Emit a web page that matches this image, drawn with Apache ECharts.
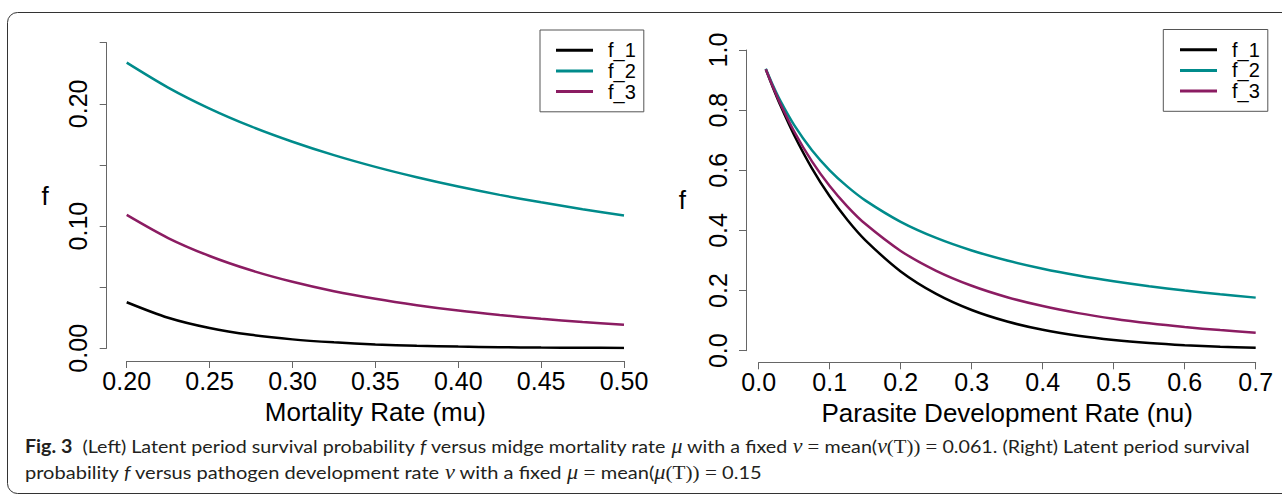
<!DOCTYPE html>
<html><head><meta charset="utf-8">
<script src="https://cdn.jsdelivr.net/npm/echarts@6/dist/echarts.min.js"></script>
<style>html,body{margin:0;padding:0;background:#fff}#c{width:1282px;height:494px}</style>
</head><body><div id="c"></div>
<script>
// ---- Left panel: f vs mortality rate mu (nu fixed) ----
const muValues = [0.200, 0.225, 0.250, 0.275, 0.300, 0.325, 0.350, 0.375, 0.400, 0.425, 0.450, 0.475, 0.500];
const leftF1 = [0.0377, 0.0250, 0.0166, 0.0110, 0.0073, 0.0049, 0.0032, 0.0021, 0.0014, 0.0009, 0.0006, 0.0004, 0.0003];
const leftF2 = [0.2337, 0.2133, 0.1961, 0.1815, 0.1690, 0.1580, 0.1484, 0.1399, 0.1323, 0.1255, 0.1194, 0.1138, 0.1087];
const leftF3 = [0.1091, 0.0902, 0.0755, 0.0638, 0.0544, 0.0467, 0.0405, 0.0353, 0.0309, 0.0273, 0.0242, 0.0215, 0.0192];

// ---- Right panel: f vs parasite development rate nu (mu fixed) ----
const nuValues = [0.01, 0.02, 0.03, 0.05, 0.075, 0.10, 0.125, 0.15, 0.20, 0.25, 0.30, 0.35, 0.40, 0.45, 0.50, 0.55, 0.60, 0.65, 0.70];
const rightF1 = [0.9355, 0.8752, 0.8187, 0.7165, 0.6065, 0.5134, 0.4346, 0.3679, 0.2636, 0.1889, 0.1353, 0.0970, 0.0695, 0.0498, 0.0357, 0.0256, 0.0183, 0.0131, 0.0094];
const rightF2 = [0.9375, 0.8824, 0.8333, 0.7500, 0.6667, 0.6000, 0.5455, 0.5000, 0.4286, 0.3750, 0.3333, 0.3000, 0.2727, 0.2500, 0.2308, 0.2143, 0.2000, 0.1875, 0.1765];
const rightF3 = [0.9362, 0.8777, 0.8240, 0.7290, 0.6297, 0.5477, 0.4793, 0.4219, 0.3318, 0.2657, 0.2160, 0.1780, 0.1484, 0.1250, 0.1063, 0.0911, 0.0787, 0.0685, 0.0599];

const seriesNames = ['f_1', 'f_2', 'f_3'];
const seriesColors = ['#000000', '#008B8B', '#8B1C62'];

const leftXLabel = 'Mortality Rate (mu)';
const rightXLabel = 'Parasite Development Rate (nu)';
const yLabel = 'f';

const captionLine1 = [
  ['b', 'Fig. 3'], ['n', '  (Left) Latent period survival probability '], ['i', 'f'],
  ['n', ' versus midge mortality rate '], ['m', 'μ'], ['n', ' with a fixed '], ['m', 'ν'],
  ['s', ' = '], ['n', 'mean('], ['m', 'ν'], ['s', '(T)) = '], ['n', '0.061. (Right) Latent period survival']
];
const captionLine2 = [
  ['n', 'probability '], ['i', 'f'], ['n', ' versus pathogen development rate '], ['m', 'ν'],
  ['n', ' with a fixed '], ['m', 'μ'], ['s', ' = '], ['n', 'mean('], ['m', 'μ'], ['s', '(T)) = '], ['n', '0.15']
];

const AX = 'Liberation Sans, Arial, Helvetica, sans-serif';
const axisGray = '#666';

function pairs(xs, ys) { return xs.map((x, i) => [x, ys[i]]); }

function makeX(gi, min, max, interval, digits, offset, name) {
  return {
    gridIndex: gi, type: 'value', min: min, max: max, interval: interval, offset: offset,
    axisLine: { show: true, onZero: false, lineStyle: { color: axisGray, width: 1 } },
    axisTick: { show: true, length: 7, lineStyle: { color: axisGray, width: 1 } },
    axisLabel: { fontFamily: AX, fontSize: 25, color: '#000', margin: 7,
      formatter: v => v.toFixed(digits) },
    splitLine: { show: false },
    name: name, nameLocation: 'middle', nameGap: 38,
    nameTextStyle: { fontFamily: AX, fontSize: 26, color: '#000' }
  };
}
function makeY(gi, min, max, interval, labelFn, offset, gap) {
  return {
    gridIndex: gi, type: 'value', min: min, max: max, interval: interval, offset: offset,
    axisLine: { show: true, onZero: false, lineStyle: { color: axisGray, width: 1 } },
    axisTick: { show: true, length: 7, lineStyle: { color: axisGray, width: 1 } },
    axisLabel: { fontFamily: AX, fontSize: 25, color: '#000', margin: 16, rotate: 90,
      formatter: labelFn },
    splitLine: { show: false },
    name: yLabel, nameLocation: 'middle', nameRotate: 0, nameGap: gap,
    nameTextStyle: { fontFamily: AX, fontSize: 26, color: '#000' }
  };
}
function makeLegend(left, top, padLeft) {
  return {
    orient: 'vertical', left: left, top: top, padding: [10, 8, 10, padLeft], itemGap: 0,
    itemWidth: 37, itemHeight: 3, icon: 'rect',
    borderColor: '#555', borderWidth: 1, borderRadius: 0,
    textStyle: { fontFamily: AX, fontSize: 20, lineHeight: 20.6, color: '#000', padding: [0, 0, 0, 10] },
    data: seriesNames
  };
}

const leftData = [leftF1, leftF2, leftF3];
const rightData = [rightF1, rightF2, rightF3];
const series = [];
seriesNames.forEach((n, k) => {
  series.push({ name: n, type: 'line', xAxisIndex: 0, yAxisIndex: 0, data: pairs(muValues, leftData[k]),
    showSymbol: false, symbol: 'none', smooth: 0.3, color: seriesColors[k],
    lineStyle: { width: 2.5, color: seriesColors[k] } });
});
seriesNames.forEach((n, k) => {
  series.push({ name: n, type: 'line', xAxisIndex: 1, yAxisIndex: 1, data: pairs(nuValues, rightData[k]),
    showSymbol: false, symbol: 'none', smooth: 0.3, color: seriesColors[k],
    lineStyle: { width: 2.5, color: seriesColors[k] } });
});

// caption rich text
const CFS = 18;
const SANS = 'Lato, "Open Sans", sans-serif';
const SERIF = '"Liberation Serif", "DejaVu Serif", serif';
const INK = '#231f20';
const richStyles = {
  b: { fontFamily: SANS, fontSize: CFS, fontWeight: 'bold', fontStyle: 'normal', fill: INK },
  n: { fontFamily: SANS, fontSize: CFS, fontWeight: 'normal', fontStyle: 'normal', fill: INK },
  i: { fontFamily: SANS, fontSize: CFS, fontWeight: 'normal', fontStyle: 'italic', fill: INK },
  m: { fontFamily: SERIF, fontSize: CFS + 2, fontWeight: 'normal', fontStyle: 'italic', fill: INK },
  s: { fontFamily: SERIF, fontSize: CFS + 1, fontWeight: 'normal', fontStyle: 'normal', fill: INK }
};
const mctx = document.createElement('canvas').getContext('2d');
function measure(segs) {
  let w = 0;
  segs.forEach(([k, t]) => {
    const s = richStyles[k];
    mctx.font = `${s.fontStyle} ${s.fontWeight} ${s.fontSize}px ${s.fontFamily}`;
    w += mctx.measureText(t).width;
  });
  return w;
}
function richText(segs) { return segs.map(([k, t]) => `{${k}|${t}}`).join(''); }
const cap1Scale = 1225 / measure(captionLine1);
const cap2Scale = 737 / measure(captionLine2);

const chart = echarts.init(document.getElementById('c'), null, { renderer: 'svg', width: 1282, height: 494 });
chart.setOption({
  animation: false,
  backgroundColor: '#fff',
  grid: [
    { left: 126.7, top: 42.7, width: 497.3, height: 305.6, outerBoundsMode: 'none', containLabel: false },
    { left: 758.7, top: 50, width: 497, height: 300.7, outerBoundsMode: 'none', containLabel: false }
  ],
  xAxis: [
    makeX(0, 0.2, 0.5, 0.05, 2, 12.7, leftXLabel),
    makeX(1, 0, 0.7, 0.1, 1, 11.6, rightXLabel)
  ],
  yAxis: [
    makeY(0, 0, 0.25, 0.05, v => (Math.abs(v * 10 - Math.round(v * 10)) < 1e-6 ? v.toFixed(2) : ''), 20, 58),
    makeY(1, 0, 1, 0.2, v => v.toFixed(1), 12.7, 60)
  ],
  legend: [makeLegend(540, 30, 16), makeLegend(1163.3, 29.5, 16.7)],
  series: series,
  graphic: [
    { type: 'rect', shape: { x: 7.5, y: 12.5, width: 1300, height: 481, r: 10 },
      style: { fill: 'none', stroke: '#333', lineWidth: 1 }, silent: true },
    { type: 'text', x: 25, y: 446, scaleX: cap1Scale, originX: 0, originY: 0,
      style: { text: richText(captionLine1), rich: richStyles, verticalAlign: 'middle', align: 'left' } },
    { type: 'text', x: 25, y: 472, scaleX: cap2Scale, originX: 0, originY: 0,
      style: { text: richText(captionLine2), rich: richStyles, verticalAlign: 'middle', align: 'left' } }
  ]
});
</script>
</body></html>
